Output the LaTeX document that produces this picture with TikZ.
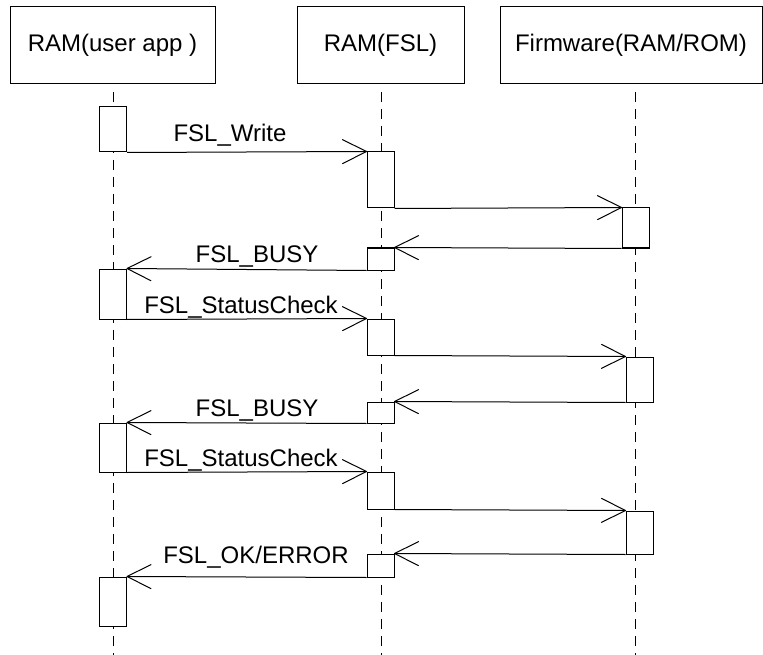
\documentclass[tikz,border=0pt]{standalone}
\usepackage{fontspec}
\setmainfont{Liberation Sans}
\usetikzlibrary{arrows.meta}
\pgfdeclarearrow{
  name=OpenVee,
  setup code={%
    \pgfarrowssettipend{0pt}%
    \pgfarrowssetlineend{0pt}%
    \pgfarrowssetbackend{-24pt}%
    \pgfarrowshullpoint{0pt}{0pt}%
    \pgfarrowsupperhullpoint{-24pt}{12pt}%
  },
  drawing code={%
    \pgfsetroundjoin
    \pgfsetroundcap
    \pgfpathmoveto{\pgfpoint{-24pt}{12pt}}%
    \pgfpathlineto{\pgfpointorigin}%
    \pgfpathlineto{\pgfpoint{-24pt}{-12pt}}%
    \pgfusepathqstroke
  },
}
\begin{document}
\begin{tikzpicture}[x=1pt,y=-1pt,line width=1pt,
  head/.style={draw,rectangle,inner sep=0pt,font=\fontsize{24}{28}\selectfont},
  act/.style={draw,fill=white,rectangle,inner sep=0pt,minimum width=27pt},
  life/.style={dash pattern=on 10pt off 7pt},
  msg/.style={-OpenVee},
  lbl/.style={anchor=base,inner sep=0pt,font=\fontsize{24}{28}\selectfont}]
\useasboundingbox (0,0) rectangle (763,655);
% header boxes
\node[head,minimum width=205pt,minimum height=77pt] (h1) at (112.5,45.5) {RAM(user app )};
\node[head,minimum width=167pt,minimum height=77pt] (h2) at (380.5,45.5) {RAM(FSL)};
\node[head,minimum width=262pt,minimum height=77pt] (h3) at (631,45.5) {Firmware(RAM/ROM)};
% lifelines
\coordinate (l1t) at (113,92); \coordinate (l1b) at (113,655);
\coordinate (l2t) at (381,92); \coordinate (l2b) at (381,655);
\coordinate (l3t) at (635,92); \coordinate (l3b) at (635,655);
\draw[life] (l1t) -- (l1b);
\draw[life] (l2t) -- (l2b);
\draw[life] (l3t) -- (l3b);
% activation boxes
\node[act,minimum height=45pt] (a1) at (113,129.5) {};
\node[act,minimum height=56pt] (b1) at (380.5,180) {};
\node[act,minimum height=40pt] (c1) at (635.5,228) {};
\node[act,minimum height=22pt] (b2) at (380.5,259) {};
\node[act,minimum height=50pt] (a2) at (113,294) {};
\node[act,minimum height=36pt] (b3) at (380.5,337) {};
\node[act,minimum height=45pt] (c2) at (639.5,379.5) {};
\node[act,minimum height=21pt] (b4) at (380.5,412.5) {};
\node[act,minimum height=49pt] (a3) at (113,447.5) {};
\node[act,minimum height=37pt] (b5) at (380.5,490.5) {};
\node[act,minimum height=43pt] (c3) at (639.5,532.5) {};
\node[act,minimum height=23pt] (b6) at (380.5,565.5) {};
\node[act,minimum height=49pt] (a4) at (113,601.5) {};
% messages
\draw[msg] (a1.south east) -- (b1.north west);
\draw[msg] (b1.south east) -- (c1.north west);
\draw[msg] (c1.south west) -- (b2.north east);
\draw[msg] (b2.south west) -- (a2.north east);
\draw[msg] (a2.south east) -- (b3.north west);
\draw[msg] (b3.south east) -- (c2.north west);
\draw[msg] (c2.south west) -- (b4.north east);
\draw[msg] (b4.south west) -- (a3.north east);
\draw[msg] (a3.south east) -- (b5.north west);
\draw[msg] (b5.south east) -- (c3.north west);
\draw[msg] (c3.south west) -- (b6.north east);
\draw[msg] (b6.south west) -- (a4.north east);
% labels
\node[lbl] (t1) at (230,142) {FSL\_Write};
\node[lbl] (t2) at (257,262) {FSL\_BUSY};
\node[lbl] (t3) at (241,313) {FSL\_StatusCheck};
\node[lbl] (t4) at (257,416) {FSL\_BUSY};
\node[lbl] (t5) at (241,466) {FSL\_StatusCheck};
\node[lbl] (t6) at (256,563) {FSL\_OK/ERROR};
\end{tikzpicture}
\end{document}
